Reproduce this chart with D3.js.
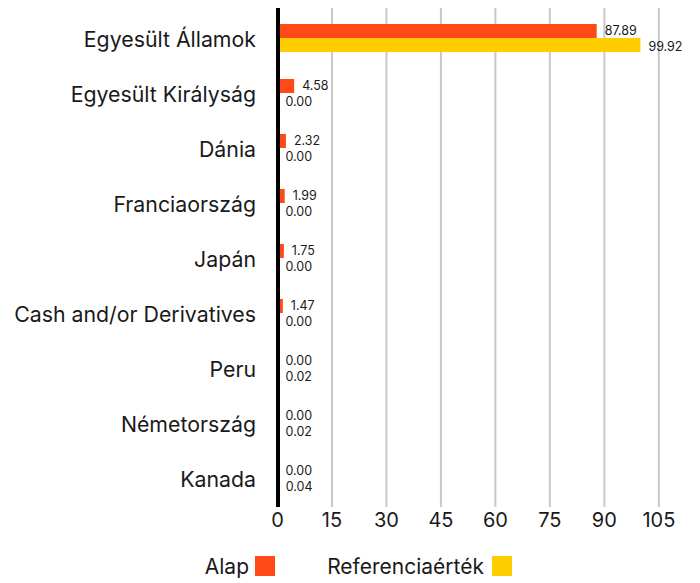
<!DOCTYPE html>
<html>
<head>
<meta charset="utf-8">
<script src="https://cdn.jsdelivr.net/npm/d3@7"></script>
<style>
    body { margin: 0; background: #fff; }
    svg text { font-family: "Inter", "Open Sans", sans-serif; fill: #1a1a1a; }
    .grid line { stroke: #c8c8c8; stroke-width: 2; }
</style>
</head>
<body>
<div id="chart"></div>
<script>
/*global d3*/
var categories = ["Egyesült Államok", "Egyesült Királyság", "Dánia", "Franciaország", "Japán",
    "Cash and/or Derivatives", "Peru", "Németország", "Kanada"];
var alap = [87.89, 4.58, 2.32, 1.99, 1.75, 1.47, 0.00, 0.00, 0.00];
var referencia = [99.92, 0.00, 0.00, 0.00, 0.00, 0.00, 0.02, 0.02, 0.04];
var seriesNames = ["Alap", "Referenciaérték"];
var tickValues = [0, 15, 30, 45, 60, 75, 90, 105];

(function () {
    "use strict";
    var colors = ["#ff4a17", "#ffce00"],
        widthGlobal = 700,
        heightGlobal = 583,
        top = 10.5,
        bottom = 505.5,

        x = d3.scaleLinear()
            .domain([0, 110])
            .range([277.5, 677]),

        y = d3.scaleBand()
            .domain(categories)
            .range([top, bottom])
            .paddingInner(0.49)
            .paddingOuter(0.245),

        ySeries = d3.scaleBand()
            .domain(seriesNames)
            .range([0, y.bandwidth()]),

        rows = categories.map(function (c, i) {
            return {cat: c, values: [alap[i], referencia[i]]};
        }),

        svg = d3.select("#chart").append("svg")
            .attr("width", widthGlobal)
            .attr("height", heightGlobal);

    // gridlines
    svg.append("g").attr("class", "grid").selectAll("line")
        .data(tickValues.slice(1))
        .enter().append("line")
        .attr("x1", function (d) { return x(d); })
        .attr("x2", function (d) { return x(d); })
        .attr("y1", 8)
        .attr("y2", 507);

    // bars
    var group = svg.append("g").selectAll("g")
        .data(rows)
        .enter().append("g")
        .attr("transform", function (d) { return "translate(0," + y(d.cat) + ")"; });

    group.selectAll("rect")
        .data(function (d) { return d.values; })
        .enter().append("rect")
        .attr("x", x(0))
        .attr("y", function (d, i) { return ySeries(seriesNames[i]); })
        .attr("width", function (d) { return x(d) - x(0); })
        .attr("height", ySeries.bandwidth())
        .attr("fill", function (d, i) { return colors[i]; });

    // value labels, nudged apart so the pair doesn't collide
    group.selectAll("text")
        .data(function (d) { return d.values; })
        .enter().append("text")
        .attr("x", function (d) { return x(d) + 8; })
        .attr("y", function (d, i) { return ySeries(seriesNames[i]) + ySeries.bandwidth() / 2 + (i === 0 ? 0 : 1.5); })
        .attr("dy", "0.35em")
        .style("font-size", "12.5px")
        .text(function (d) { return d.toFixed(2); });

    // y axis line
    svg.append("line")
        .attr("x1", x(0) + 0.5)
        .attr("x2", x(0) + 0.5)
        .attr("y1", 8)
        .attr("y2", 507)
        .attr("stroke", "#000")
        .attr("stroke-width", 4);

    // category labels
    svg.append("g").selectAll("text")
        .data(categories)
        .enter().append("text")
        .attr("x", 256)
        .attr("y", function (d) { return y(d) + y.bandwidth() / 2 + 2; })
        .attr("dy", "0.35em")
        .attr("text-anchor", "end")
        .style("font-size", "21.3px")
        .text(function (d) { return d; });

    // tick labels
    svg.append("g").selectAll("text")
        .data(tickValues)
        .enter().append("text")
        .attr("x", function (d) { return x(d); })
        .attr("y", 520)
        .attr("dy", "0.35em")
        .attr("text-anchor", "middle")
        .style("font-size", "20px")
        .text(function (d) { return d; });

    // legend
    var legendX = [[249, 255], [484, 492]];
    var legend = svg.append("g").selectAll("g")
        .data(seriesNames)
        .enter().append("g");
    legend.append("text")
        .attr("x", function (d, i) { return legendX[i][0]; })
        .attr("y", 567)
        .attr("dy", "0.35em")
        .attr("text-anchor", "end")
        .style("font-size", "21px")
        .text(function (d) { return d; });
    legend.append("rect")
        .attr("x", function (d, i) { return legendX[i][1]; })
        .attr("y", 556)
        .attr("width", 20)
        .attr("height", 20)
        .attr("fill", function (d, i) { return colors[i]; });
}());
</script>
</body>
</html>
